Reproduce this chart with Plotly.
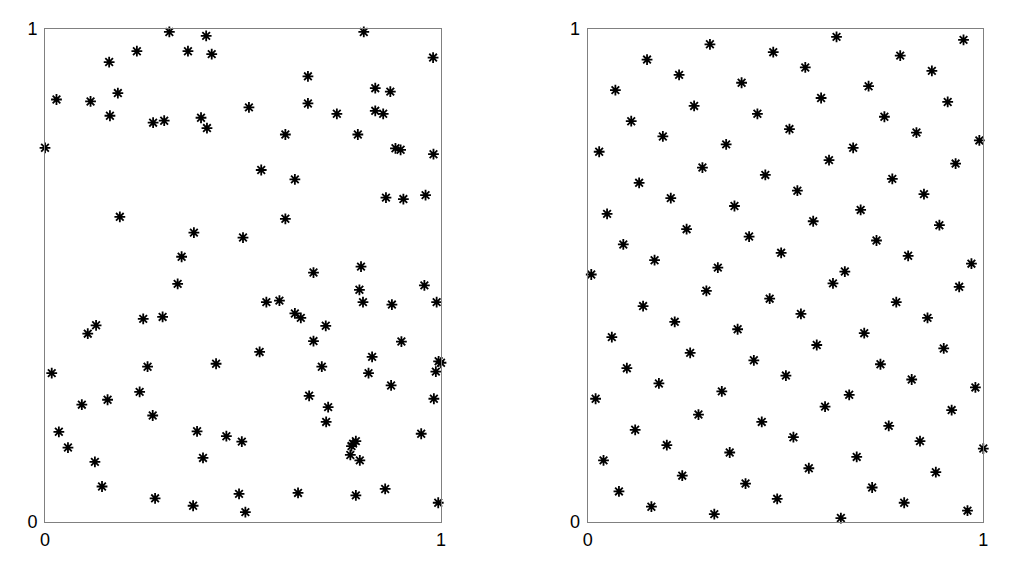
import plotly.graph_objects as go

# left panel: random points
rand_x = [0.314, 0.407, 0.232, 0.361, 0.421, 0.162, 0.029, 0.115, 0.184, 0.164,
          0.273, 0.301, 0.394, 0.409, 0.000, 0.189, 0.376, 0.345,
          0.805, 0.980, 0.664, 0.834, 0.872, 0.515, 0.664, 0.737, 0.834, 0.854,
          0.607, 0.790, 0.885, 0.898, 0.981, 0.546, 0.631, 0.861, 0.905, 0.961,
          0.607, 0.500, 0.798,
          0.335, 0.248, 0.297, 0.129, 0.108, 0.017, 0.259, 0.432, 0.239, 0.158,
          0.093, 0.272, 0.035, 0.384, 0.458, 0.058, 0.399, 0.126, 0.144, 0.278,
          0.374,
          0.678, 0.794, 0.958, 0.559, 0.592, 0.803, 0.876, 0.989, 0.631, 0.646,
          0.709, 0.678, 0.900, 0.542, 0.826, 0.699, 0.994, 1.000, 0.987, 0.817,
          0.874, 0.667, 0.982, 0.715, 0.710, 0.497, 0.950, 0.785, 0.778, 0.774,
          0.771, 0.795, 0.490, 0.639, 0.785, 0.859, 0.506, 0.993]
rand_y = [0.994, 0.986, 0.955, 0.955, 0.949, 0.933, 0.857, 0.853, 0.870, 0.824,
          0.810, 0.814, 0.820, 0.799, 0.759, 0.619, 0.587, 0.538,
          0.994, 0.942, 0.904, 0.880, 0.873, 0.841, 0.849, 0.828, 0.834, 0.828,
          0.786, 0.786, 0.758, 0.755, 0.746, 0.714, 0.695, 0.658, 0.655, 0.663,
          0.615, 0.577, 0.518,
          0.483, 0.412, 0.416, 0.399, 0.382, 0.302, 0.315, 0.321, 0.264, 0.248,
          0.238, 0.216, 0.183, 0.184, 0.174, 0.151, 0.130, 0.122, 0.072, 0.048,
          0.033,
          0.506, 0.471, 0.480, 0.446, 0.449, 0.446, 0.441, 0.446, 0.423, 0.414,
          0.398, 0.367, 0.366, 0.345, 0.335, 0.315, 0.326, 0.323, 0.305, 0.302,
          0.277, 0.256, 0.250, 0.233, 0.203, 0.163, 0.179, 0.164, 0.159, 0.154,
          0.136, 0.125, 0.057, 0.059, 0.054, 0.067, 0.020, 0.039]

# right panel: lattice points
latt_x = [0.309, 0.469, 0.150, 0.231, 0.389, 0.070, 0.269, 0.429, 0.110, 0.190,
          0.350, 0.029, 0.290, 0.449, 0.130, 0.210, 0.371, 0.049, 0.250, 0.408,
          0.090, 0.169, 0.329, 0.009,
          0.629, 0.950, 0.790, 0.550, 0.870, 0.710, 0.590, 0.910, 0.750, 0.510,
          0.831, 0.990, 0.671, 0.610, 0.930, 0.770, 0.530, 0.850, 0.690, 0.570,
          0.889, 0.730, 0.489, 0.810, 0.970, 0.650,
          0.300, 0.460, 0.140, 0.220, 0.379, 0.061, 0.259, 0.420, 0.099, 0.180,
          0.339, 0.020, 0.280, 0.440, 0.120, 0.200, 0.359, 0.040, 0.239, 0.399,
          0.079, 0.479, 0.161, 0.320,
          0.620, 0.939, 0.780, 0.539, 0.859, 0.699, 0.579, 0.900, 0.740, 0.501,
          0.819, 0.980, 0.661, 0.600, 0.920, 0.761, 0.520, 0.840, 1.000, 0.680,
          0.559, 0.880, 0.719, 0.800, 0.960, 0.640]
latt_y = [0.969, 0.953, 0.938, 0.907, 0.891, 0.876, 0.844, 0.828, 0.813, 0.782,
          0.766, 0.751, 0.719, 0.704, 0.688, 0.657, 0.641, 0.625, 0.594, 0.579,
          0.563, 0.531, 0.516, 0.502,
          0.984, 0.978, 0.946, 0.922, 0.915, 0.884, 0.860, 0.852, 0.822, 0.797,
          0.790, 0.774, 0.759, 0.734, 0.727, 0.696, 0.672, 0.665, 0.633, 0.610,
          0.602, 0.571, 0.546, 0.540, 0.524, 0.508,
          0.469, 0.453, 0.438, 0.406, 0.391, 0.375, 0.343, 0.328, 0.312, 0.281,
          0.265, 0.250, 0.218, 0.203, 0.187, 0.156, 0.141, 0.125, 0.094, 0.078,
          0.062, 0.047, 0.031, 0.016,
          0.484, 0.477, 0.446, 0.422, 0.414, 0.383, 0.359, 0.352, 0.320, 0.297,
          0.289, 0.273, 0.258, 0.234, 0.227, 0.195, 0.172, 0.164, 0.149, 0.132,
          0.109, 0.101, 0.070, 0.039, 0.023, 0.008]

tick_vals = [0, 1]
tick_text = ['0', '1']

star = dict(symbol='asterisk', size=9, color='black', line=dict(width=1.8, color='black'))

fig = go.Figure()
fig.add_trace(go.Scatter(x=rand_x, y=rand_y, mode='markers', marker=star,
                         cliponaxis=False, xaxis='x', yaxis='y'))
fig.add_trace(go.Scatter(x=latt_x, y=latt_y, mode='markers', marker=star,
                         cliponaxis=False, xaxis='x2', yaxis='y2'))

axis_style = dict(range=[0, 1], tickvals=tick_vals, ticktext=tick_text, ticks='',
                  showgrid=False, zeroline=False, showline=True, mirror=True,
                  linecolor='#808080', linewidth=1, automargin=False,
                  tickfont=dict(family='Liberation Sans', size=18, color='black'))

# the page body adds ~7px, so domains are shifted back by that much
fig.update_layout(
    width=1024, height=566,
    margin=dict(l=0, r=0, t=21, b=52),
    paper_bgcolor='white', plot_bgcolor='white',
    showlegend=False,
    xaxis=dict(domain=[37/1024, 433/1024], anchor='y', ticklabelstandoff=1, **axis_style),
    yaxis=dict(domain=[0, 1], anchor='x', ticklabelstandoff=3, **axis_style),
    xaxis2=dict(domain=[579.7/1024, 975.3/1024], anchor='y2', ticklabelstandoff=1, **axis_style),
    yaxis2=dict(domain=[0, 1], anchor='x2', ticklabelstandoff=3, **axis_style),
)

fig.write_html("out.html")
